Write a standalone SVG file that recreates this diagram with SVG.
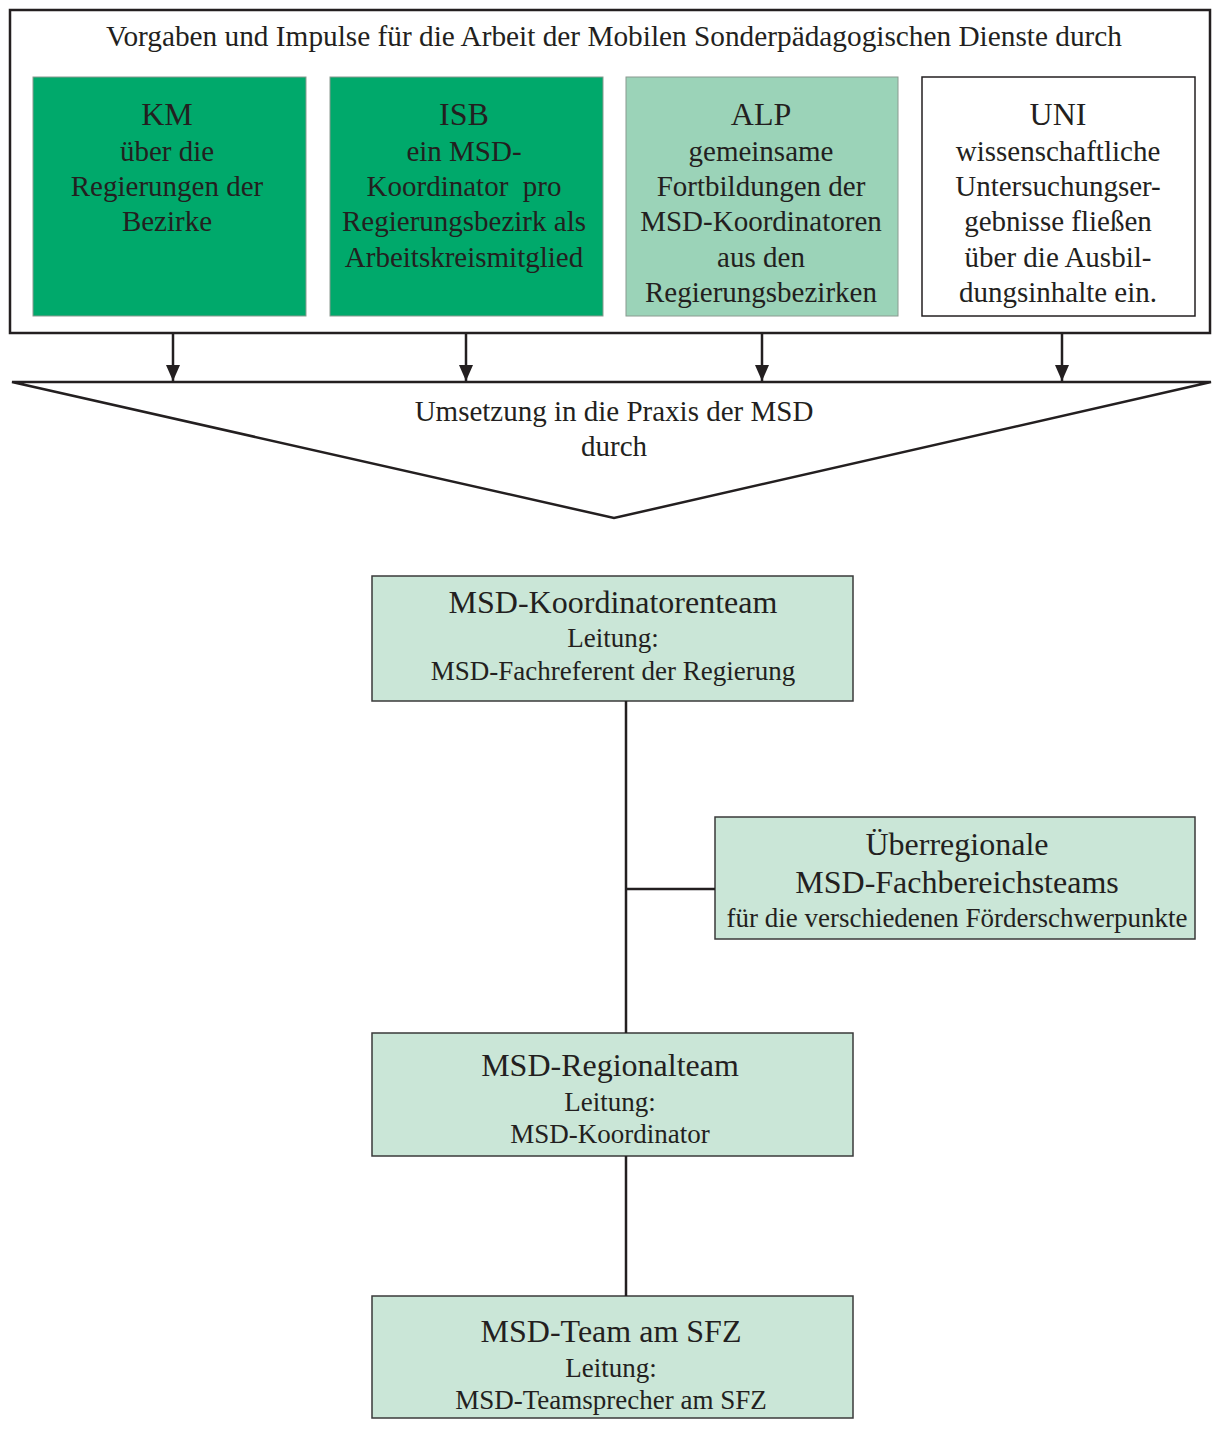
<svg xmlns="http://www.w3.org/2000/svg" width="1212" height="1430" viewBox="0 0 1212 1430">
<style>
text{font-family:"Liberation Serif","Times New Roman",serif;fill:#231f20;text-anchor:middle}
.t29{font-size:29px}
.t32{font-size:32px}
.t27{font-size:27px}
.ln{stroke:#231f20;stroke-width:2.5;fill:none}
.dk{fill:#00a96b;stroke:#8a9a90;stroke-width:1}
.md{fill:#9bd3b8;stroke:#8a9a90;stroke-width:1}
.wh{fill:#ffffff;stroke:#231f20;stroke-width:1.5}
.lt{fill:#cae6d7;stroke:#3a3a3a;stroke-width:1.5}
</style>
<defs>
<marker id="ah" viewBox="0 0 16 14" refX="16" refY="7" markerWidth="16" markerHeight="14" markerUnits="userSpaceOnUse" orient="auto">
<path d="M0,0 L16,7 L0,14 z" fill="#231f20"/>
</marker>
</defs>
<rect x="0" y="0" width="1212" height="1430" fill="#ffffff"/>

<g id="outer">
<rect x="10" y="10" width="1200" height="323" fill="#ffffff" stroke="#231f20" stroke-width="2.5"/>
<text class="t29" x="614" y="46" style="font-size:29.3px">Vorgaben und Impulse für die Arbeit der Mobilen Sonderpädagogischen Dienste durch</text>
</g>

<g id="km">
<rect class="dk" x="33" y="77" width="273" height="239"/>
<text class="t32" x="167" y="125">KM</text>
<text class="t29" x="167" y="161">über die</text>
<text class="t29" x="167" y="196">Regierungen der</text>
<text class="t29" x="167" y="231">Bezirke</text>
</g>

<g id="isb">
<rect class="dk" x="330" y="77" width="273" height="239"/>
<text class="t32" x="464" y="125">ISB</text>
<text class="t29" x="464" y="161">ein MSD-</text>
<text class="t29" x="464" y="196" xml:space="preserve">Koordinator  pro</text>
<text class="t29" x="464" y="231">Regierungsbezirk als</text>
<text class="t29" x="464" y="267">Arbeitskreismitglied</text>
</g>

<g id="alp">
<rect class="md" x="626" y="77" width="272" height="239"/>
<text class="t32" x="761" y="125">ALP</text>
<text class="t29" x="761" y="161">gemeinsame</text>
<text class="t29" x="761" y="196">Fortbildungen der</text>
<text class="t29" x="761" y="231">MSD-Koordinatoren</text>
<text class="t29" x="761" y="267">aus den</text>
<text class="t29" x="761" y="302">Regierungsbezirken</text>
</g>

<g id="uni">
<rect class="wh" x="922" y="77" width="273" height="239"/>
<text class="t32" x="1058" y="125">UNI</text>
<text class="t29" x="1058" y="161">wissenschaftliche</text>
<text class="t29" x="1058" y="196">Untersuchungser-</text>
<text class="t29" x="1058" y="231">gebnisse fließen</text>
<text class="t29" x="1058" y="267">über die Ausbil-</text>
<text class="t29" x="1058" y="302">dungsinhalte ein.</text>
</g>

<g id="funnel">
<path class="ln" d="M12,382 L1211,382 L614,518 Z" fill="#ffffff"/>
<text class="t29" x="614" y="421">Umsetzung in die Praxis der MSD</text>
<text class="t29" x="614" y="456">durch</text>
</g>

<g id="koordinatorenteam">
<rect class="lt" x="372" y="576" width="481" height="125"/>
<text class="t32" x="613" y="613">MSD-Koordinatorenteam</text>
<text class="t27" x="613" y="647">Leitung:</text>
<text class="t27" x="613" y="680">MSD-Fachreferent der Regierung</text>
</g>

<g id="fachbereichsteams">
<rect class="lt" x="715" y="817" width="480" height="122"/>
<text class="t32" x="957" y="855">Überregionale</text>
<text class="t32" x="957" y="893">MSD-Fachbereichsteams</text>
<text class="t27" x="957" y="927">für die verschiedenen Förderschwerpunkte</text>
</g>

<g id="regionalteam">
<rect class="lt" x="372" y="1033" width="481" height="123"/>
<text class="t32" x="610" y="1076">MSD-Regionalteam</text>
<text class="t27" x="610" y="1111">Leitung:</text>
<text class="t27" x="610" y="1143">MSD-Koordinator</text>
</g>

<g id="sfz">
<rect class="lt" x="372" y="1296" width="481" height="122"/>
<text class="t32" x="611" y="1342">MSD-Team am SFZ</text>
<text class="t27" x="611" y="1377">Leitung:</text>
<text class="t27" x="611" y="1409">MSD-Teamsprecher am SFZ</text>
</g>

<g id="connectors">
<line class="ln" x1="173" y1="334" x2="173" y2="381" marker-end="url(#ah)" stroke-width="2"/>
<line class="ln" x1="466" y1="334" x2="466" y2="381" marker-end="url(#ah)" stroke-width="2"/>
<line class="ln" x1="762" y1="334" x2="762" y2="381" marker-end="url(#ah)" stroke-width="2"/>
<line class="ln" x1="1062" y1="334" x2="1062" y2="381" marker-end="url(#ah)" stroke-width="2"/>
<line class="ln" x1="626" y1="701" x2="626" y2="1033"/>
<line class="ln" x1="626" y1="889" x2="715" y2="889"/>
<line class="ln" x1="626" y1="1156" x2="626" y2="1296"/>
</g>
</svg>
